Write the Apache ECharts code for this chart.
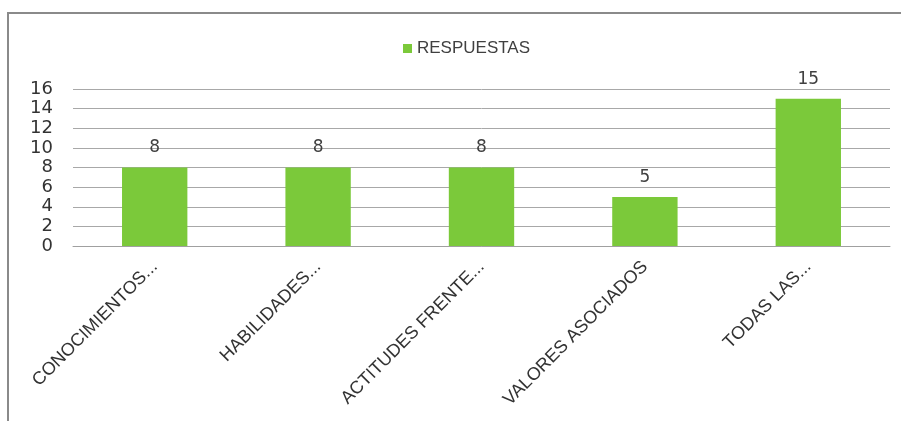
<!DOCTYPE html>
<html>
<head>
<meta charset="utf-8">
<script src="https://cdn.jsdelivr.net/npm/echarts@6/dist/echarts.min.js"></script>
<style>
  html, body { margin: 0; padding: 0; background: #fff; }
  .frame {
    position: absolute;
    left: 7px;
    top: 12px;
    width: 900px;
    height: 415px;
    border-left: 2px solid #8a8a8a;
    border-top: 2px solid #8a8a8a;
  }
  #chart { position: absolute; left: 0; top: 0; width: 901px; height: 421px; }
</style>
</head>
<body>
<div class="frame"></div>
<div id="chart"></div>
<script>
const categories = ['CONOCIMIENTOS...', 'HABILIDADES...', 'ACTITUDES FRENTE...', 'VALORES ASOCIADOS', 'TODAS LAS...']
const respuestas = [8, 8, 8, 5, 15]
const seriesName = 'RESPUESTAS'

const chart = echarts.init(document.getElementById('chart'))

const option = {
  animation: false,
  legend: {
    data: [seriesName],
    left: 398,
    top: 35,
    icon: 'rect',
    itemWidth: 9,
    itemHeight: 9,
    itemGap: 6,
    textStyle: {
      color: '#404040',
      fontSize: 17,
      fontFamily: 'Liberation Sans'
    }
  },
  grid: {
    left: 73,
    right: 11,
    top: 89,
    bottom: 175
  },
  xAxis: {
    type: 'category',
    data: categories,
    axisLine: { show: true, lineStyle: { color: '#a0a0a0', width: 1 } },
    axisTick: { show: false },
    axisLabel: {
      rotate: 45,
      interval: 0,
      margin: 18,
      color: '#333',
      fontSize: 18,
      fontFamily: 'Liberation Sans'
    }
  },
  yAxis: {
    type: 'value',
    min: 0,
    max: 16,
    interval: 2,
    axisLine: { show: false },
    axisTick: { show: false },
    axisLabel: {
      color: '#333',
      fontSize: 18,
      margin: 20,
      fontFamily: 'DejaVu Sans'
    },
    splitLine: { lineStyle: { color: '#a8a8a8', width: 1 } }
  },
  series: [
    {
      name: seriesName,
      type: 'bar',
      data: respuestas,
      barWidth: '40%',
      itemStyle: { color: '#7BC93A' },
      label: {
        show: true,
        position: 'top',
        distance: 11,
        color: '#404040',
        fontSize: 17,
        fontFamily: 'DejaVu Sans'
      }
    }
  ]
}

chart.setOption(option)
</script>
</body>
</html>
